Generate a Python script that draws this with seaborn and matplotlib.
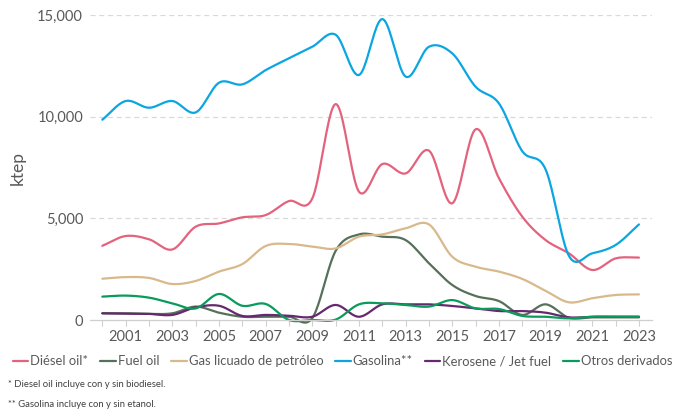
import numpy as np
import pandas as pd
import matplotlib
matplotlib.use("Agg")
import matplotlib.pyplot as plt
import seaborn as sns

years = list(range(2000, 2024))
diesel = [3650, 4130, 3970, 3470, 4590, 4750, 5050, 5160, 5850, 5980, 10620, 6310,
          7670, 7210, 8330, 5740, 9380, 6970, 5080, 3930, 3280, 2460, 3030, 3070]
fuel_oil = [330, 330, 300, 330, 660, 360, 160, 160, 160, 100, 3400, 4210,
            4100, 3930, 2790, 1720, 1180, 930, 250, 770, 110, 130, 130, 130]
glp = [2030, 2110, 2070, 1770, 1920, 2380, 2750, 3640, 3740, 3610, 3520, 4100,
       4210, 4510, 4700, 3110, 2620, 2380, 2020, 1430, 870, 1070, 1230, 1260]
gasolina = [9850, 10770, 10440, 10770, 10210, 11670, 11590, 12290, 12870, 13440, 14030, 12050,
            14800, 11970, 13440, 13110, 11470, 10650, 8300, 7400, 3150, 3280, 3690, 4700]
kerosene = [330, 310, 300, 250, 620, 700, 200, 250, 210, 160, 740, 160,
            770, 770, 770, 690, 570, 440, 440, 360, 130, 160, 160, 160]
otros = [1150, 1200, 1100, 820, 570, 1280, 700, 790, 0, 0, 20, 770,
         820, 740, 660, 980, 570, 540, 200, 160, 80, 160, 160, 160]

series_names = ["Diésel oil*", "Fuel oil", "Gas licuado de petróleo", "Gasolina**",
                "Kerosene / Jet fuel", "Otros derivados"]
series_values = [diesel, fuel_oil, glp, gasolina, kerosene, otros]
colors = ["#E3637D", "#56705A", "#D8B98C", "#0BA6E1", "#66286E", "#0A9A5B"]

xtick_labels = [str(y) if y % 2 == 1 else "" for y in years]
ytick_values = [0, 5000, 10000, 15000]
footnotes = ["* Diesel oil incluye con y sin biodiesel.",
             "** Gasolina incluye con y sin etanol."]


def catmull_rom(x, y, n=20):
    x = np.asarray(x, float)
    y = np.asarray(y, float)
    xp = np.concatenate([[2 * x[0] - x[1]], x, [2 * x[-1] - x[-2]]])
    yp = np.concatenate([[2 * y[0] - y[1]], y, [2 * y[-1] - y[-2]]])
    xs, ys = [], []
    for i in range(1, len(xp) - 2):
        t = np.linspace(0, 1, n, endpoint=False)
        p0, p1, p2, p3 = yp[i - 1], yp[i], yp[i + 1], yp[i + 2]
        m1 = (p2 - p0) / 2
        m2 = (p3 - p1) / 2
        h00 = 2 * t**3 - 3 * t**2 + 1
        h10 = t**3 - 2 * t**2 + t
        h01 = -2 * t**3 + 3 * t**2
        h11 = t**3 - t**2
        ys.append(h00 * p1 + h10 * m1 + h01 * p2 + h11 * m2)
        xs.append(xp[i] + t * (xp[i + 1] - xp[i]))
    xs.append([x[-1]])
    ys.append([y[-1]])
    return np.concatenate(xs), np.concatenate(ys)


frames = []
for name, vals in zip(series_names, series_values):
    sx, sy = catmull_rom(years, vals)
    frames.append(pd.DataFrame({"Año": sx, "ktep": sy, "Serie": name}))
df = pd.concat(frames, ignore_index=True)

sns.set_theme(style="white")
plt.rcParams["font.family"] = ["Lato", "DejaVu Sans"]
text_color = "#595959"

fig = plt.figure(figsize=(6.78, 4.17), dpi=100)
ax = fig.add_axes([0.1327, 0.2326, 0.829, 0.7314])

sns.lineplot(data=df, x="Año", y="ktep", hue="Serie", hue_order=series_names,
             palette=colors, linewidth=1.6, ax=ax, sort=False, estimator=None,
             legend=True)
for ln in ax.lines:
    ln.set_clip_on(False)

ax.set_xlim(1999.47, 2023.56)
ax.set_ylim(0, 15000)
ax.set_xticks(years)
ax.set_xticklabels(xtick_labels)
ax.set_yticks(ytick_values)
ax.set_yticklabels([f"{v:,}" for v in ytick_values])
for v in ytick_values[1:]:
    ax.axhline(v, color="#d9d9d9", linestyle=(0, (4, 3)), linewidth=0.9, zorder=0)

for s in ["top", "right", "left"]:
    ax.spines[s].set_visible(False)
ax.spines["bottom"].set_color("#cfcfcf")
ax.spines["bottom"].set_linewidth(0.9)
ax.tick_params(axis="x", length=4, width=0.8, color="#cfcfcf", pad=3,
               labelsize=10.5, labelcolor=text_color, bottom=True, direction="out")
ax.tick_params(axis="y", length=0, pad=5, labelsize=10.5, labelcolor=text_color)
ax.set_xlabel("")
ax.set_ylabel("ktep", fontsize=12.5, color=text_color)
ax.yaxis.set_label_coords(-0.115, 0.5)

handles, labels = ax.get_legend_handles_labels()
ax.get_legend().remove()
fig.legend(handles, labels, loc="center", bbox_to_anchor=(0.505, 0.134), ncol=6,
           frameon=False, fontsize=9.4, handlelength=1.2, handletextpad=0.15,
           columnspacing=0.9, labelcolor=text_color, borderaxespad=0)

fig.text(0.012, 0.079, footnotes[0], fontsize=6.8, color="#404040", va="center")
fig.text(0.012, 0.029, footnotes[1], fontsize=6.8, color="#404040", va="center")

fig.savefig("out.png", dpi=100)
